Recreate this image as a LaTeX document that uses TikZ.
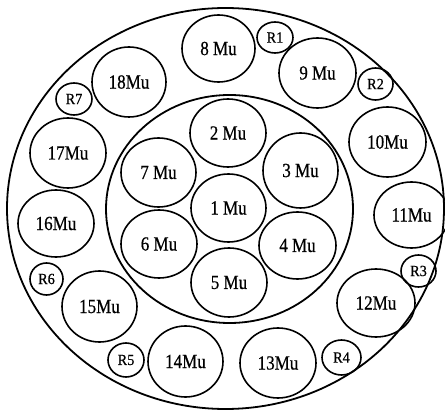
\documentclass[tikz,border=0pt]{standalone}
\usepackage{fontspec}
\newfontfamily\lblfont[FakeStretch=0.85,FakeBold=0.6]{Liberation Serif}
\newfontfamily\rfont[FakeStretch=0.92,FakeBold=0.6]{Liberation Serif}
\usetikzlibrary{shapes.geometric}
\tikzset{
  mu/.style={draw, ellipse, line width=1.6pt, inner sep=0pt, font=\lblfont\fontsize{20}{20}\selectfont},
  rr/.style={draw, ellipse, line width=1.6pt, inner sep=0pt, font=\rfont\fontsize{15.5}{15.5}\selectfont},
  ring/.style={draw, ellipse, line width=1.8pt, inner sep=0pt}
}
\begin{document}
\begin{tikzpicture}[x=1pt,y=-1pt]
\useasboundingbox (0,0) rectangle (445,411);
\node[ring, minimum width=437pt, minimum height=401pt] (outer) at (225.5,208.5) {};
\node[ring, minimum width=247pt, minimum height=228pt] (inner) at (229.5,209) {};
% inner cluster
\node[mu, minimum width=75pt, minimum height=68pt] (m1) at (228.5,208) {1 Mu};
\node[mu, minimum width=76pt, minimum height=68pt] (m2) at (228,133) {2 Mu};
\node[mu, minimum width=75pt, minimum height=75pt] (m3) at (300.5,170.5) {3 Mu};
\node[mu, minimum width=77pt, minimum height=67pt] (m4) at (297.5,245.5) {4 Mu};
\node[mu, minimum width=76pt, minimum height=69pt] (m5) at (229,282.5) {5 Mu};
\node[mu, minimum width=76pt, minimum height=68pt] (m6) at (159,244) {6 Mu};
\node[mu, minimum width=75pt, minimum height=69pt] (m7) at (158.5,172.5) {7 Mu};
% outer ring
\node[mu, minimum width=73pt, minimum height=67pt] (m8) at (218.5,48.5) {8 Mu};
\node[mu, minimum width=77pt, minimum height=70pt] (m9) at (317.5,73) {9 Mu};
\node[mu, minimum width=77pt, minimum height=70pt] (m10) at (387.5,142) {10Mu};
\node[mu, minimum width=75pt, minimum height=66pt] (m11) at (411.5,215) {11Mu};
\node[mu, minimum width=78pt, minimum height=68pt] (m12) at (376,303) {12Mu};
\node[mu, minimum width=76pt, minimum height=70pt] (m13) at (278,363) {13Mu};
\node[mu, minimum width=75pt, minimum height=71pt] (m14) at (185.5,361.5) {14Mu};
\node[mu, minimum width=75pt, minimum height=71pt] (m15) at (99.5,306.5) {15Mu};
\node[mu, minimum width=76pt, minimum height=67pt] (m16) at (56,223.5) {16Mu};
\node[mu, minimum width=76pt, minimum height=70pt] (m17) at (68,153) {17Mu};
\node[mu, minimum width=74pt, minimum height=70pt] (m18) at (129,82) {18Mu};
% small R circles
\node[rr, minimum width=36pt, minimum height=31pt] (r1) at (275,37.5) {R1};
\node[rr, minimum width=35pt, minimum height=32pt] (r2) at (375.5,84) {R2};
\node[rr, minimum width=35pt, minimum height=32pt] (r3) at (418.5,271) {R3};
\node[rr, minimum width=39pt, minimum height=35pt] (r4) at (341.5,357.5) {R4};
\node[rr, minimum width=36pt, minimum height=34pt] (r5) at (126,360) {R5};
\node[rr, minimum width=33pt, minimum height=32pt] (r6) at (46.5,279) {R6};
\node[rr, minimum width=36pt, minimum height=32pt] (r7) at (74,99) {R7};
\end{tikzpicture}
\end{document}
